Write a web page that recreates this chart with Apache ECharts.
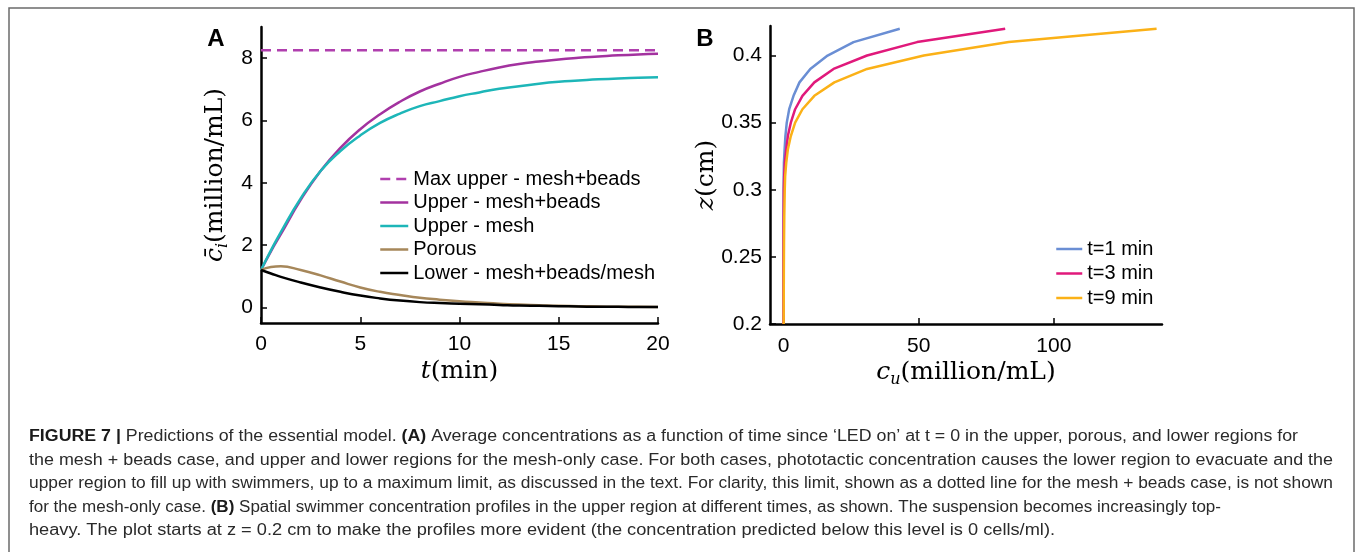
<!DOCTYPE html>
<html>
<head>
<meta charset="utf-8">
<script src="https://cdn.jsdelivr.net/npm/echarts@6.0.0/dist/echarts.min.js"></script>
<style>
  html, body { margin: 0; padding: 0; background: #fff; }
  #chart { width: 1355px; height: 552px; }
</style>
</head>
<body>
<div id="chart"></div>
<script>
// ---- panel A : average concentrations against time ----
var times      = [0, 0.5, 1, 2, 3, 4, 5, 6, 7, 8, 9, 10, 11, 12, 13, 14, 15, 16, 17, 18, 19, 20];
var upperBeads = [1.20, 1.80, 2.35, 3.45, 4.38, 5.12, 5.72, 6.20, 6.60, 6.93, 7.18, 7.40, 7.56, 7.70, 7.81, 7.89, 7.96, 8.01, 8.05, 8.09, 8.12, 8.14];
var upperMesh  = [1.20, 1.83, 2.42, 3.50, 4.38, 5.02, 5.52, 5.92, 6.22, 6.46, 6.62, 6.78, 6.90, 7.02, 7.10, 7.18, 7.24, 7.28, 7.32, 7.35, 7.37, 7.39];
var porous     = [1.20, 1.30, 1.32, 1.20, 1.03, 0.83, 0.64, 0.50, 0.40, 0.31, 0.25, 0.20, 0.16, 0.12, 0.09, 0.07, 0.05, 0.04, 0.03, 0.02, 0.02, 0.01];
var lower      = [1.20, 1.09, 0.98, 0.80, 0.64, 0.50, 0.38, 0.29, 0.22, 0.17, 0.14, 0.12, 0.10, 0.08, 0.06, 0.05, 0.04, 0.03, 0.02, 0.02, 0.01, 0.01];
var maxUpper   = 8.25;
var aXTicks = [0, 5, 10, 15, 20];
var aYTicks = [0, 2, 4, 6, 8];
var aNames  = ['Max upper - mesh+beads', 'Upper - mesh+beads', 'Upper - mesh', 'Porous', 'Lower - mesh+beads/mesh'];

// ---- panel B : spatial profiles c_u(z) ----
var zLevels  = [0.20, 0.22, 0.24, 0.26, 0.28, 0.30, 0.31, 0.32, 0.33, 0.34, 0.35, 0.36, 0.37, 0.38, 0.39, 0.40, 0.41, 0.42];
var profile1 = [0, 0, 0, 0, 0.01, 0.03, 0.07, 0.15, 0.4, 0.7, 1.2, 2.1, 3.7, 5.9, 9.9, 16.3, 25.9, 43];
var profile3 = [0, 0, 0, 0.02, 0.05, 0.12, 0.25, 0.5, 1.0, 1.6, 2.7, 4.3, 7.0, 11.4, 18.5, 30.9, 49.4, 82];
var profile9 = [0.05, 0.08, 0.12, 0.18, 0.28, 0.45, 0.6, 1.0, 1.6, 2.7, 4.3, 7.0, 11.4, 18.8, 30.9, 51.9, 83.3, 138];
var bXTicks = [0, 50, 100];
var bYTicks = [0.2, 0.25, 0.3, 0.35, 0.4];
var bNames  = ['t=1 min', 't=3 min', 't=9 min'];

// caption, one entry per printed line: [text, bold]
var captionLines = [
  [['FIGURE 7 |', true], [' Predictions of the essential model. ', false], ['(A)', true], [' Average concentrations as a function of time since \u2018LED on\u2019 at t = 0 in the upper, porous, and lower regions for', false]],
  [['the mesh + beads case, and upper and lower regions for the mesh-only case. For both cases, phototactic concentration causes the lower region to evacuate and the', false]],
  [['upper region to fill up with swimmers, up to a maximum limit, as discussed in the text. For clarity, this limit, shown as a dotted line for the mesh + beads case, is not shown', false]],
  [['for the mesh-only case. ', false], ['(B)', true], [' Spatial swimmer concentration profiles in the upper region at different times, as shown. The suspension becomes increasingly top-', false]],
  [['heavy. The plot starts at z = 0.2 cm to make the profiles more evident (the concentration predicted below this level is 0 cells/ml).', false]]
];
var captionRight = [1298, 1333, 1333, 1221, 1055];

var SANS = 'Liberation Sans';
var SERIF = 'DejaVu Serif';

function pairs(xs, ys) {
    return xs.map(function (x, i) { return [x, ys[i]]; });
}
function profile(vals) {
    return zLevels.map(function (z, i) { return [vals[i], z]; });
}

function axisCommon(ticks) {
    return {
        axisLine: { show: true, onZero: false, lineStyle: { color: '#000', width: 2.5 } },
        axisTick: { show: true, inside: true, length: 6, customValues: ticks, lineStyle: { color: '#000', width: 1.5 } },
        axisLabel: { customValues: ticks, color: '#000', fontSize: 21, fontFamily: SANS },
        splitLine: { show: false },
        nameMoveOverlap: false
    };
}

var mathRich = {
    v: { fontFamily: SERIF, fontStyle: 'italic', fontSize: 25, lineHeight: 32, color: '#000' },
    s: { fontFamily: SERIF, fontStyle: 'italic', fontSize: 16, lineHeight: 16, verticalAlign: 'bottom', color: '#000' },
    n: { fontFamily: SERIF, fontSize: 25, lineHeight: 32, color: '#000' }
};

var ax = echarts.util.merge(axisCommon(aXTicks), {
    type: 'value', gridIndex: 0, min: 0, max: 20,
    name: '{v|t}{n|(min)}', nameLocation: 'middle', nameGap: 32,
    nameTextStyle: { rich: mathRich }
}, true);
ax.axisLabel.margin = 11;
var ay = echarts.util.merge(axisCommon(aYTicks), {
    type: 'value', gridIndex: 0, min: -0.5, max: 9,
    name: '{v|c\u0304}{s|i}{n|(million/mL)}', nameLocation: 'middle', nameGap: 30, nameRotate: 90,
    nameTextStyle: { rich: mathRich }
}, true);
ay.axisLabel.margin = 8;
var bx = echarts.util.merge(axisCommon(bXTicks), {
    type: 'value', gridIndex: 1, min: -5, max: 140,
    name: '{v|c}{s|u}{n|(million/mL)}', nameLocation: 'middle', nameGap: 32,
    nameTextStyle: { rich: mathRich }
}, true);
bx.axisLabel.margin = 12;
var by = echarts.util.merge(axisCommon(bYTicks), {
    type: 'value', gridIndex: 1, min: 0.2, max: 0.422,
    name: '{v|z}{n|(cm)}', nameLocation: 'middle', nameGap: 48, nameRotate: 90,
    nameTextStyle: { rich: mathRich }
}, true);
by.axisLabel.margin = 8;

function lineSeries(name, data, color, xi, smooth, dash) {
    return {
        name: name, type: 'line', xAxisIndex: xi, yAxisIndex: xi,
        data: data, symbol: 'none', showSymbol: false,
        smooth: smooth,
        lineStyle: { color: color, width: 2.5, type: dash || 'solid' },
        itemStyle: { color: color },
        emphasis: { disabled: true }
    };
}

// caption as graphic text, each line stretched to its printed width
var ctx = document.createElement('canvas').getContext('2d');
function segWidth(seg) {
    ctx.font = (seg[1] ? 'bold ' : '') + '16px "' + SANS + '"';
    return ctx.measureText(seg[0]).width;
}
var captionLeft = 29;
var captionY = [437, 460.5, 484, 507.5, 531];
var graphics = [
    { type: 'rect', silent: true, shape: { x: 9, y: 8, width: 1345, height: 620 },
      style: { fill: 'none', stroke: '#6b6b6b', lineWidth: 1.5 } },
    { type: 'text', x: 216, y: 39, style: { text: 'A', font: 'bold 24px "' + SANS + '"', fill: '#000', align: 'center', verticalAlign: 'middle' } },
    { type: 'text', x: 705, y: 39, style: { text: 'B', font: 'bold 24px "' + SANS + '"', fill: '#000', align: 'center', verticalAlign: 'middle' } }
];
captionLines.forEach(function (segs, i) {
    var w = 0;
    segs.forEach(function (s) { w += segWidth(s); });
    graphics.push({
        type: 'text', x: captionLeft, y: captionY[i],
        scaleX: (captionRight[i] - captionLeft) / w,
        style: {
            text: segs.map(function (s) { return (s[1] ? '{b|' : '{r|') + s[0] + '}'; }).join(''),
            rich: {
                b: { fontFamily: SANS, fontSize: 16, fontWeight: 'bold', fill: '#1a1a1a' },
                r: { fontFamily: SANS, fontSize: 16, fill: '#2a2a2a' }
            },
            align: 'left', verticalAlign: 'middle'
        }
    });
});

// line-only legend icons (hide the symbol drawn by default)
var legendCommon = {
    orient: 'vertical', padding: 0, itemHeight: 20, selectedMode: false,
    itemStyle: { opacity: 0 },
    lineStyle: { width: 2.5 },
    textStyle: { fontSize: 20, fontFamily: SANS, color: '#000' }
};

var chart = echarts.init(document.getElementById('chart'), null, { renderer: 'canvas' });
chart.setOption({
    animation: false,
    backgroundColor: '#fff',
    grid: [
        { left: 261, top: 27, width: 397, height: 296, outerBoundsMode: 'none', containLabel: false },
        { left: 770, top: 26, width: 392, height: 298, outerBoundsMode: 'none', containLabel: false }
    ],
    xAxis: [ax, bx],
    yAxis: [ay, by],
    legend: [
        echarts.util.extend({ left: 379, top: 169, itemWidth: 28, itemGap: 3.5, data: aNames }, legendCommon),
        echarts.util.extend({ left: 1055, top: 239, itemWidth: 26, itemGap: 4.5, data: bNames }, legendCommon)
    ],
    series: [
        lineSeries(aNames[0], [[times[0], maxUpper], [times[times.length - 1], maxUpper]], '#b03fae', 0, false, [10, 6]),
        lineSeries(aNames[1], pairs(times, upperBeads), '#a3329f', 0, 0.5),
        lineSeries(aNames[2], pairs(times, upperMesh), '#1db6b8', 0, 0.5),
        lineSeries(aNames[3], pairs(times, porous), '#a6875a', 0, 0.5),
        lineSeries(aNames[4], pairs(times, lower), '#000000', 0, 0.5),
        lineSeries(bNames[0], profile(profile1), '#6a8ed4', 1, false),
        lineSeries(bNames[1], profile(profile3), '#e0197b', 1, false),
        lineSeries(bNames[2], profile(profile9), '#fbb117', 1, false)
    ],
    graphic: graphics
});
</script>
</body>
</html>
